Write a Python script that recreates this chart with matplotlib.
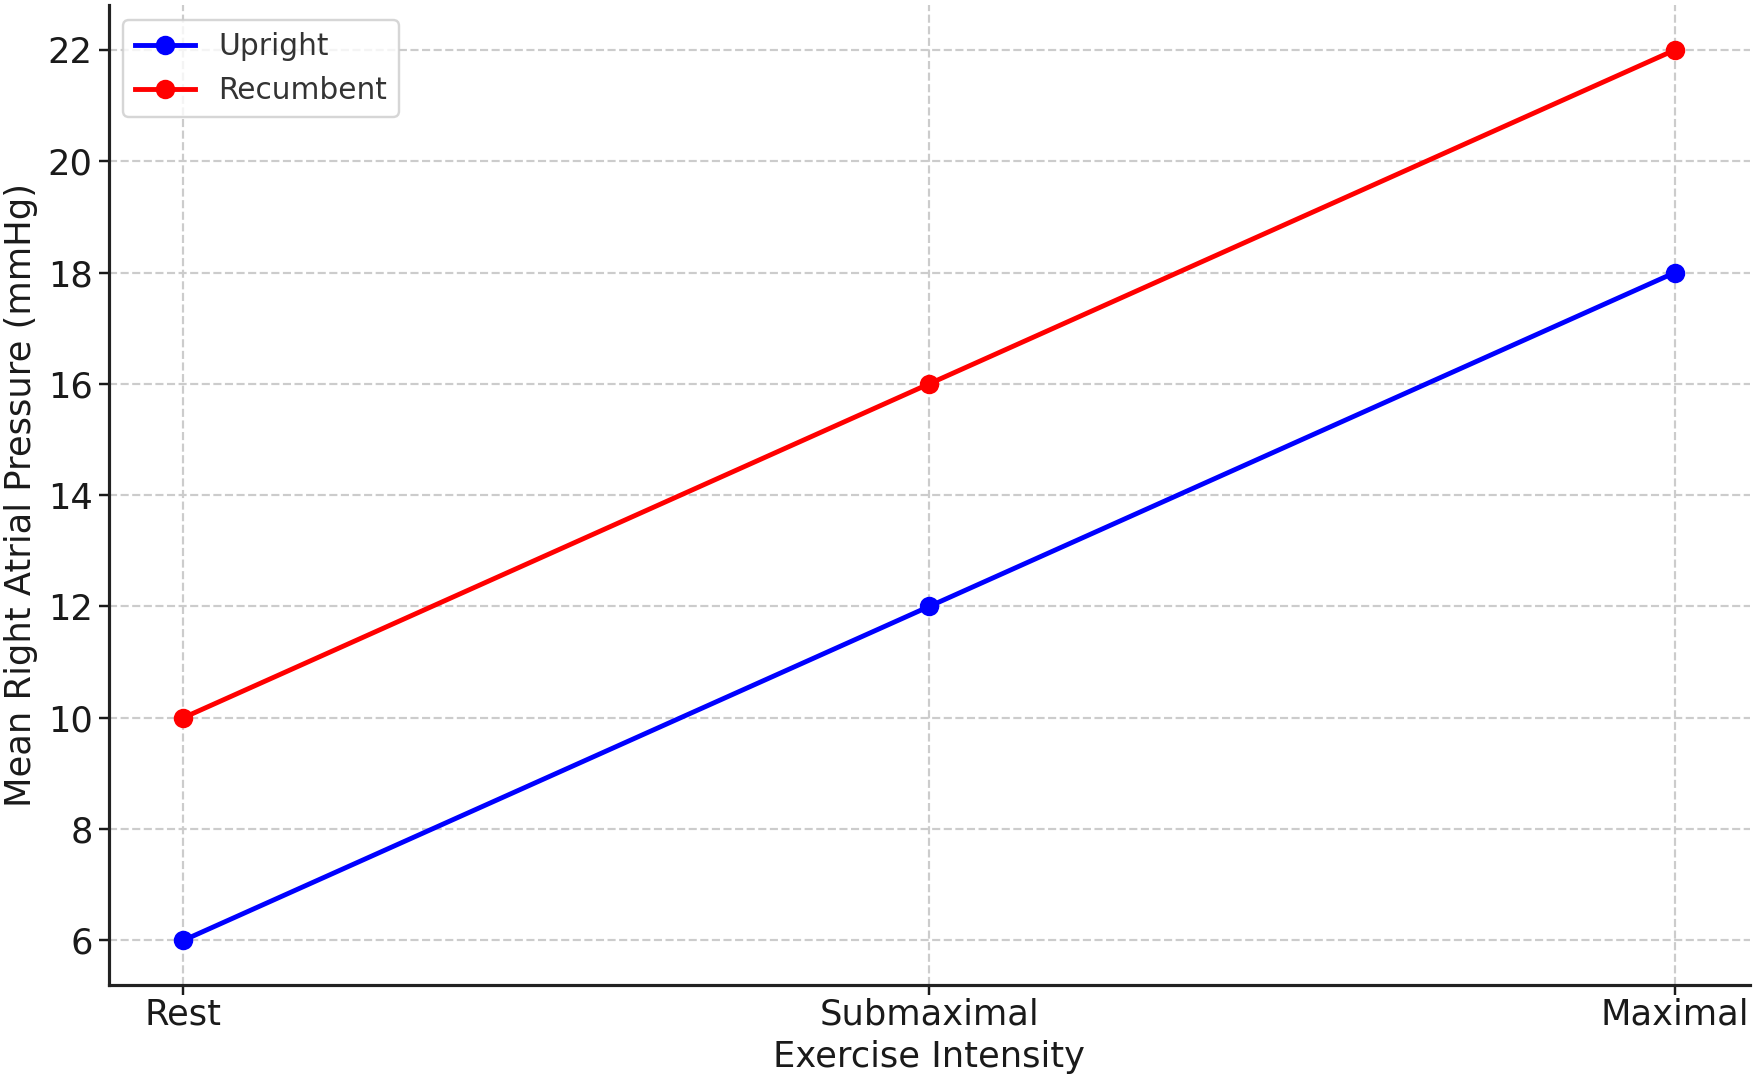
import matplotlib
matplotlib.use("Agg")
import matplotlib.pyplot as plt

# Data
intensity = ["Rest", "Submaximal", "Maximal"]
upright = [6, 12, 18]
recumbent = [10, 16, 22]

DPI = 175
fig = plt.figure(figsize=(1755 / DPI, 1080 / DPI), dpi=DPI)
ax = fig.add_axes([0.0619, 0.088, 0.935, 0.907])

ax.plot(intensity, upright, marker="o", color="blue", linewidth=2, markersize=7, label="Upright")
ax.plot(intensity, recumbent, marker="o", color="red", linewidth=2, markersize=7, label="Recumbent")

ax.set_xlabel("Exercise Intensity", fontsize=14.5, color="#1a1a1a", labelpad=3.5)
ax.set_ylabel("Mean Right Atrial Pressure (mmHg)", fontsize=14.5, color="#1a1a1a", labelpad=4)
ax.tick_params(axis="both", labelsize=14.5, colors="#1a1a1a", length=4, width=1, pad=2.5)
ax.tick_params(axis="x", pad=1)
ax.set_yticks(range(6, 23, 2))

ax.grid(True, linestyle="--", color="#cccccc", linewidth=0.9)
for side in ["top", "right"]:
    ax.spines[side].set_visible(False)
for side in ["left", "bottom"]:
    ax.spines[side].set_linewidth(1.3)
    ax.spines[side].set_color("#222222")

leg = ax.legend(loc="upper left", fontsize=12.2, framealpha=0.8, edgecolor="#cccccc")
for t in leg.get_texts():
    t.set_color("#333333")

fig.savefig("out.png", dpi=DPI)
